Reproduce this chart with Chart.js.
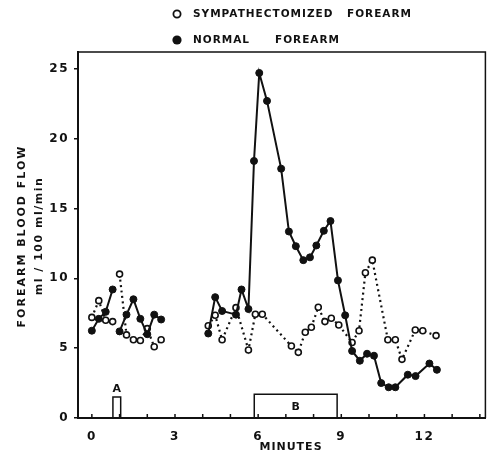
<!DOCTYPE html>
<html>
<head>
<meta charset="utf-8">
<script src="https://cdn.jsdelivr.net/npm/chart.js@4.4.1/dist/chart.umd.min.js"></script>
<style>
  html, body { margin: 0; padding: 0; background: #fff; }
  #wrap { width: 491px; height: 455px; position: relative; }
</style>
</head>
<body>
<div id="wrap"><canvas id="c" width="491" height="455"></canvas></div>
<script>
// ---- data ----
const seriesNames = [['SYMPATHECTOMIZED', 'FOREARM'], ['NORMAL', 'FOREARM']];

// sympathectomized forearm (open circles, dotted line); null = gap
const minutesSymp = [0, 0.25, 0.5, 0.75, 0.875, 1.0, 1.25, 1.5, 1.75, 2.0, 2.25, 2.5, 3.3,
  4.2, 4.45, 4.7, 5.2, 5.65, 5.9, 6.15, 7.2, 7.45, 7.7, 7.92, 8.17, 8.41, 8.64, 8.91,
  9.39, 9.64, 9.87, 10.12, 10.68, 10.95, 11.19, 11.67, 11.94, 12.42];
const flowSymp = [7.2, 8.4, 7.0, 6.9, null, 10.3, 5.95, 5.6, 5.55, 6.4, 5.1, 5.6, null,
  6.6, 7.35, 5.6, 7.9, 4.87, 7.43, 7.43, 5.15, 4.7, 6.14, 6.5, 7.93, 6.9, 7.14, 6.66,
  5.4, 6.25, 10.4, 11.3, 5.6, 5.6, 4.2, 6.3, 6.25, 5.9];

// normal forearm (filled circles, solid line)
const minutesNormal = [0, 0.25, 0.5, 0.75, 0.875, 1.0, 1.25, 1.5, 1.75, 2.0, 2.25, 2.5, 3.3,
  4.2, 4.45, 4.7, 5.2, 5.4, 5.65, 5.85, 6.04, 6.32, 6.83, 7.11, 7.36, 7.63, 7.87, 8.1,
  8.37, 8.61, 8.88, 9.14, 9.39, 9.67, 9.93, 10.18, 10.44, 10.71, 10.95, 11.4, 11.68,
  12.18, 12.45];
const flowNormal = [6.25, 7.1, 7.6, 9.2, null, 6.2, 7.4, 8.5, 7.1, 6.0, 7.4, 7.05, null,
  6.05, 8.65, 7.66, 7.4, 9.2, 7.8, 18.4, 24.7, 22.7, 17.85, 13.35, 12.3, 11.3, 11.5, 12.35,
  13.4, 14.1, 9.85, 7.35, 4.8, 4.1, 4.6, 4.46, 2.5, 2.2, 2.2, 3.1, 3.0,
  3.9, 3.45];

const xTickValues = [0, 3, 6, 9, 12];
const xMinorTickValues = [0, 1, 2, 3, 4, 5, 6, 7, 8, 9, 10, 11, 12, 13, 14];
const yTickValues = [0, 5, 10, 15, 20, 25];

// stimulus markers: label, start minute, end minute, height (axis units)
const stimulusLabels = ['A', 'B'];
const stimulusStart = [0.76, 5.86];
const stimulusEnd = [1.04, 8.85];
const stimulusHeight = [1.5, 1.7];

const yTitle = ['FOREARM BLOOD FLOW', 'ml / 100 ml/min'];
const xTitle = 'MINUTES';

// ---- build ----
const toPts = (xs, ys) => xs.map((x, i) => ({ x: x, y: ys[i] }));
const INK = '#111';
const FONT = '"DejaVu Sans", sans-serif';

const decor = {
  id: 'decor',
  beforeDraw(chart) {
    chart.ctx.letterSpacing = '1.5px';
  },
  afterDraw(chart) {
    const ctx = chart.ctx;
    const xs = chart.scales.x, ys = chart.scales.y;
    const a = chart.chartArea;
    ctx.save();
    ctx.strokeStyle = INK;
    ctx.fillStyle = INK;
    // top and right frame
    ctx.lineWidth = 1.5;
    ctx.beginPath();
    ctx.moveTo(a.left - 1, a.top);
    ctx.lineTo(a.right, a.top);
    ctx.lineTo(a.right, a.bottom);
    ctx.stroke();
    // minor x ticks (pointing up)
    ctx.lineWidth = 1.5;
    xMinorTickValues.forEach(v => {
      const px = xs.getPixelForValue(v);
      ctx.beginPath();
      ctx.moveTo(px, a.bottom);
      ctx.lineTo(px, a.bottom - 4);
      ctx.stroke();
    });
    // stimulus boxes
    ctx.lineWidth = 1.5;
    stimulusLabels.forEach((lab, i) => {
      const x0 = xs.getPixelForValue(stimulusStart[i]);
      const x1 = xs.getPixelForValue(stimulusEnd[i]);
      const y0 = ys.getPixelForValue(0);
      const y1 = ys.getPixelForValue(stimulusHeight[i]);
      ctx.beginPath();
      ctx.moveTo(x0, y0);
      ctx.lineTo(x0, y1);
      ctx.lineTo(x1, y1);
      ctx.lineTo(x1, y0);
      ctx.stroke();
      ctx.font = 'bold 11px ' + FONT;
      ctx.textAlign = 'center';
      ctx.textBaseline = 'middle';
      ctx.letterSpacing = '0px';
      if (i === 0) {
        ctx.fillText(lab, (x0 + x1) / 2, y1 - 8);
      } else {
        ctx.fillText(lab, (x0 + x1) / 2, (y0 + y1) / 2 + 1);
      }
    });
    // legend
    ctx.letterSpacing = '1px';
    ctx.font = 'bold 10.5px ' + FONT;
    ctx.textAlign = 'left';
    ctx.textBaseline = 'middle';
    const legY = [14, 40];
    const wordX = [[193, 347], [193, 275]];
    seriesNames.forEach((words, i) => {
      ctx.beginPath();
      if (i === 0) {
        ctx.arc(177, legY[i], 3.6, 0, Math.PI * 2);
        ctx.fillStyle = '#fff'; ctx.fill(); ctx.lineWidth = 1.8; ctx.stroke();
      } else {
        ctx.arc(177, legY[i], 4.6, 0, Math.PI * 2);
        ctx.fillStyle = INK; ctx.fill();
      }
      ctx.fillStyle = INK;
      words.forEach((w, j) => ctx.fillText(w, wordX[i][j], legY[i]));
    });
    // y title (rotated)
    ctx.save();
    ctx.translate(22, 236);
    ctx.rotate(-Math.PI / 2);
    ctx.textAlign = 'center';
    ctx.textBaseline = 'middle';
    ctx.letterSpacing = '2px';
    ctx.font = 'bold 11px ' + FONT;
    ctx.fillText(yTitle[0], 0, 0);
    ctx.letterSpacing = '1.5px';
    ctx.font = 'bold 11px ' + FONT;
    ctx.fillText(yTitle[1], 0, 17);
    ctx.restore();
    // x title
    ctx.letterSpacing = '1px';
    ctx.font = 'bold 11px ' + FONT;
    ctx.textAlign = 'center';
    ctx.textBaseline = 'middle';
    ctx.fillText(xTitle, 291, 447);
    ctx.restore();
  }
};

new Chart(document.getElementById('c'), {
  type: 'line',
  data: {
    datasets: [
      {
        label: seriesNames[1].join(' '),
        data: toPts(minutesNormal, flowNormal),
        borderColor: INK,
        borderWidth: 2,
        pointRadius: 3.5,
        pointBackgroundColor: INK,
        pointBorderColor: INK,
        pointBorderWidth: 1,
        spanGaps: false,
        tension: 0
      },
      {
        label: seriesNames[0].join(' '),
        data: toPts(minutesSymp, flowSymp),
        borderColor: INK,
        borderWidth: 2.2,
        borderDash: [2, 3.5],
        pointRadius: 3,
        pointBackgroundColor: '#fff',
        pointBorderColor: INK,
        pointBorderWidth: 1.6,
        spanGaps: false,
        tension: 0
      }
    ]
  },
  options: {
    responsive: false,
    animation: false,
    events: [],
    layout: { padding: { left: 0, top: 52, right: 4, bottom: 0 } },
    plugins: { legend: { display: false }, tooltip: { enabled: false }, title: { display: false } },
    scales: {
      x: {
        type: 'linear',
        min: -0.5,
        max: 14.2,
        afterBuildTicks: s => { s.ticks = xTickValues.map(v => ({ value: v })); },
        afterFit: s => { s.height = 37; },
        grid: { display: false },
        border: { display: true, color: INK, width: 2 },
        ticks: {
          color: INK,
          padding: 4,
          maxRotation: 0,
          autoSkip: false,
          font: { family: FONT, size: 12, weight: 'bold' },
          callback: v => String(v)
        }
      },
      y: {
        min: 0,
        max: 26.2,
        afterBuildTicks: s => { s.ticks = yTickValues.map(v => ({ value: v })); },
        afterFit: s => { s.width = 78; },
        grid: { display: true, drawOnChartArea: false, tickLength: 4, color: INK, lineWidth: 1.5 },
        border: { display: true, color: INK, width: 2 },
        ticks: {
          color: INK,
          padding: 5,
          autoSkip: false,
          font: { family: FONT, size: 12, weight: 'bold' },
          callback: v => String(v)
        }
      }
    }
  },
  plugins: [decor]
});
</script>
</body>
</html>
